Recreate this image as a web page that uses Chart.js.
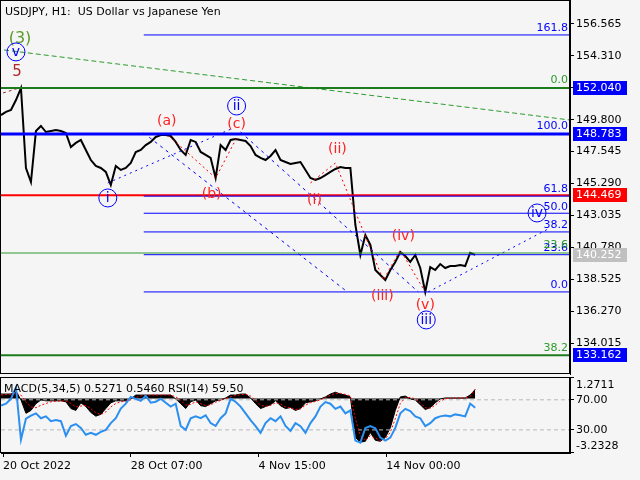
<!DOCTYPE html>
<html>
<head>
<meta charset="utf-8">
<script src="https://cdn.jsdelivr.net/npm/chart.js@4.4.0/dist/chart.umd.min.js"></script>
<style>
  html, body { margin: 0; padding: 0; background: #f5f5f5; overflow: hidden; }
  #wrap { position: relative; width: 640px; height: 480px; overflow: hidden; }
  #mainCanvas { position: absolute; left: 0; top: -8px; }
  #subCanvas { position: absolute; left: 0; top: 369px; }
</style>
</head>
<body>
<div id="wrap">
  <canvas id="mainCanvas" width="640" height="390"></canvas>
  <canvas id="subCanvas" width="640" height="106"></canvas>
</div>
<script>
// USDJPY H1 closes, one value per step
const closes = [
  150.13, 150.35, 150.49, 151.19, 152.04, 146.39, 145.40, 149.00, 149.36, 148.93,
  149.00, 149.07, 149.00, 148.86, 147.87, 148.16, 148.37, 147.66, 146.95, 146.53,
  146.39, 146.11, 145.19, 146.53, 146.25, 146.39, 146.74, 147.52, 147.66, 148.01,
  148.23, 148.58, 148.72, 148.72, 148.65, 148.23, 147.66, 147.31, 148.37, 148.23,
  147.52, 147.31, 147.10, 145.68, 148.01, 147.66, 148.37, 148.44, 148.37, 148.30,
  147.94, 147.31, 147.10, 146.95, 147.24, 147.66, 146.95, 146.81, 146.67, 146.74,
  146.81, 146.25, 145.68, 145.54, 145.68, 145.89, 146.11, 146.32, 146.46, 146.39,
  146.39, 142.36, 140.24, 141.65, 140.95, 139.18, 138.83, 138.47, 139.18, 139.75,
  140.45, 140.17, 139.75, 140.24, 139.32, 137.63, 139.39, 139.18, 139.60, 139.32,
  139.46, 139.46, 139.53, 139.46, 140.40, 140.25
];

const macdHist = [
  0.26, 0.26, 0.26, 0.43, -0.09, -0.88, -0.71, -0.31, -0.09, -0.14,
  -0.14, -0.14, -0.14, -0.20, -0.60, -0.71, -0.26, -0.48, -0.83, -1.05,
  -0.94, -0.60, -0.26, -0.14, -0.14, -0.14, -0.03, 0.20, 0.20, 0.20,
  0.20, 0.20, 0.20, 0.20, 0.20, -0.03, -0.31, -0.60, -0.20, -0.09,
  -0.43, -0.48, -0.31, -0.14, -0.09, 0.03, 0.20, 0.20, 0.26, 0.26,
  0.03, -0.31, -0.60, -0.48, -0.37, -0.14, -0.43, -0.60, -0.54, -0.71,
  -0.60, -0.26, -0.20, -0.14, -0.03, 0.09, 0.26, 0.37, 0.26, 0.20,
  0.09, -2.31, -2.59, -2.54, -2.02, -2.48, -2.54, -2.31, -1.74, -0.71,
  0.09, 0.14, -0.03, -0.09, -0.37, -0.66, -0.54, -0.26, -0.03, 0.03,
  0.03, 0.03, 0.03, 0.03, 0.20, 0.53
];

const macdSignal = [
  0.20, 0.24, 0.25, 0.30, 0.20, -0.20, -0.50, -0.55, -0.40, -0.30,
  -0.20, -0.16, -0.15, -0.15, -0.30, -0.50, -0.45, -0.42, -0.60, -0.85,
  -0.95, -0.80, -0.50, -0.30, -0.20, -0.16, -0.08, 0.05, 0.15, 0.19,
  0.20, 0.20, 0.20, 0.20, 0.20, 0.10, -0.10, -0.40, -0.35, -0.20,
  -0.30, -0.42, -0.38, -0.22, -0.12, -0.02, 0.10, 0.17, 0.22, 0.25,
  0.14, -0.10, -0.40, -0.47, -0.42, -0.25, -0.33, -0.50, -0.55, -0.65,
  -0.62, -0.40, -0.25, -0.18, -0.08, 0.04, 0.18, 0.30, 0.30, 0.24,
  0.15, -1.20, -2.20, -2.50, -2.20, -2.35, -2.50, -2.40, -2.00, -1.20,
  -0.30, 0.05, 0.06, -0.02, -0.25, -0.55, -0.58, -0.40, -0.15, -0.02,
  0.02, 0.03, 0.03, 0.03, 0.12, 0.55
];

const rsiValues = [
  62.3, 64.8, 71.3, 86.8, 17.0, 45.0, 49.0, 52.0, 45.5, 48.0,
  41.6, 43.0, 41.6, 22.3, 35.2, 37.8, 32.6, 23.5, 26.1, 23.5,
  27.4, 30.0, 39.0, 45.5, 58.4, 64.8, 73.9, 71.3, 68.7, 75.2,
  66.1, 67.4, 71.3, 66.1, 61.0, 64.8, 35.2, 30.0, 45.5, 48.0,
  45.5, 49.4, 39.0, 35.2, 45.5, 52.0, 71.3, 67.4, 61.0, 52.0,
  43.0, 35.0, 26.0, 39.0, 45.5, 41.6, 48.0, 35.2, 28.7, 39.0,
  35.0, 26.0, 39.0, 48.0, 61.0, 67.0, 64.8, 58.0, 61.0, 52.0,
  56.0, 15.8, 13.0, 32.6, 35.0, 32.0, 19.7, 15.8, 19.7, 32.6,
  52.0, 58.0, 55.0, 48.0, 45.5, 35.0, 39.0, 45.5, 48.0, 49.0,
  48.0, 50.6, 49.4, 48.0, 65.0, 59.5
];

const xTickPos = [0.4, 26, 51.6, 77.2];
const xTickLabels = ['20 Oct 2022', '28 Oct 07:00', '4 Nov 15:00', '14 Nov 00:00'];
const priceTicks = [134.015, 136.270, 138.525, 140.780, 143.035, 145.290, 147.545, 149.800, 152.055, 154.310, 156.565];
const rsiTicks = [30, 70];
const rsiLevels = [70, 30];

// fibonacci levels
const blueFibLevels = [155.79, 144.40, 143.19, 141.87, 140.26, 137.63];
const blueFibNames = ['161.8', '61.8', '50.0', '38.2', '23.6', '0.0'];
const greenFibLevels = [152.040, 140.38, 133.162];
const greenFibNames = ['0.0', '23.6', '38.2'];
const channelLevel = 148.783;
const redLevel = 144.469;

const boxValues = [152.040, 148.783, 144.469, 140.252, 133.162];
const boxColors = ['#0000ff', '#0000ff', '#ff0000', '#c0c0c0', '#0000ff'];

// wave marks
const waveNames = ['(3)', 'v', '5', '(a)', 'ii', '(c)', 'i', '(b)', '(i)', '(ii)', '(iii)', '(iv)', '(v)', 'iii', 'iv'];
const waveX = [3.8, 3, 3.2, 33.2, 47.2, 47.2, 21.4, 42.2, 62.8, 67.4, 76.4, 80.6, 85, 85.2, 107.4];
const waveY = [155.55, 154.59, 153.17, 149.71, 150.77, 149.50, 144.27, 144.55, 144.13, 147.73, 137.34, 141.58, 136.71, 135.65, 143.21];
const waveKind = ['green', 'circle', 'brown', 'red', 'circle', 'red', 'circle', 'red', 'red', 'red', 'red', 'red', 'red', 'circle', 'circle'];

// trend / wave lines
const greenTrend = [{x: 0.6, y: 154.73}, {x: 114, y: 149.78}];
const brownTrend = [{x: 0.4, y: 151.69}, {x: 3.6, y: 152.04}];
const blueChannelA = [{x: 28.6, y: 148.86}, {x: 69.4, y: 137.63}];
const blueChannelB = [{x: 48, y: 148.93}, {x: 83.6, y: 137.63}];
const blueWaveA = [{x: 21.4, y: 145.33}, {x: 46.6, y: 149.22}];
const blueWaveB = [{x: 85.6, y: 137.63}, {x: 110, y: 142.15}];
const redWaveA = [{x: 33, y: 148.86}, {x: 43, y: 145.68}, {x: 47.2, y: 148.51}];
const redWaveB = [{x: 62, y: 145.33}, {x: 67, y: 146.74}, {x: 76.6, y: 138.47}, {x: 80, y: 140.59}, {x: 85, y: 137.63}];

const X_MAX = 114;
const FIB_START = 28.6;

Chart.defaults.font.family = 'DejaVu Sans';
Chart.defaults.font.size = 11;
Chart.defaults.color = '#000';

function hline(y, x0, color, width, dash) {
  return {
    data: [{x: x0, y: y}, {x: X_MAX, y: y}],
    borderColor: color, borderWidth: width, borderDash: dash || [],
    pointRadius: 0, fill: false, order: 1
  };
}
function seg(pts, color, width, dash) {
  return {
    data: pts, borderColor: color, borderWidth: width, borderDash: dash || [],
    pointRadius: 0, fill: false, order: 1
  };
}

const mainSets = [];
mainSets.push({
  data: closes.map((v, i) => ({x: i, y: v})),
  borderColor: '#000', borderWidth: 2, pointRadius: 0, fill: false, order: 5
});
blueFibLevels.forEach(v => mainSets.push(hline(v, FIB_START, '#0000ff', 1)));
mainSets.push(hline(greenFibLevels[0], 0, '#1c7c1c', 2));
mainSets.push(hline(greenFibLevels[1], 0, '#2c9a2c', 1));
mainSets.push(hline(greenFibLevels[2], 0, '#1c7c1c', 2));
mainSets.push(hline(channelLevel, 0, '#0000ff', 3));
mainSets.push(hline(redLevel, 0, '#ff0000', 2));
mainSets.push(seg(greenTrend, '#2c9a2c', 1, [5, 3]));
mainSets.push(seg(brownTrend, '#a03030', 1, [3, 3]));
mainSets.push(seg(blueChannelA, '#0000ff', 1, [3, 4]));
mainSets.push(seg(blueChannelB, '#0000ff', 1, [3, 4]));
mainSets.push(seg(blueWaveA, '#0000ff', 1, [2, 4]));
mainSets.push(seg(blueWaveB, '#0000ff', 1, [2, 4]));
mainSets.push(seg(redWaveA, '#ff0000', 1, [2, 3]));
mainSets.push(seg(redWaveB, '#ff0000', 1, [2, 3]));

const mainDecor = {
  id: 'mainDecor',
  afterDraw(chart) {
    const {ctx, chartArea: a, scales: {x, y}} = chart;
    ctx.save();
    // frame
    ctx.strokeStyle = '#000';
    ctx.lineWidth = 1;
    ctx.strokeRect(a.left - 0.5, a.top + 0.5, a.right - a.left, a.bottom - a.top - 1);
    // title
    ctx.fillStyle = '#000';
    ctx.font = '11px "DejaVu Sans"';
    ctx.textAlign = 'left';
    ctx.textBaseline = 'middle';
    ctx.fillText('USDJPY, H1:  US Dollar vs Japanese Yen', a.left + 4, a.top + 12);
    // fib names
    ctx.textAlign = 'right';
    ctx.textBaseline = 'bottom';
    ctx.fillStyle = '#0000ff';
    blueFibLevels.forEach((v, i) => ctx.fillText(blueFibNames[i], a.right - 2, y.getPixelForValue(v) - 1));
    ctx.fillText('100.0', a.right - 2, y.getPixelForValue(channelLevel) - 2);
    ctx.fillStyle = '#2c9a2c';
    greenFibLevels.forEach((v, i) => ctx.fillText(greenFibNames[i], a.right - 2, y.getPixelForValue(v) - 2));
    // wave marks
    ctx.textAlign = 'center';
    ctx.textBaseline = 'middle';
    waveNames.forEach((t, i) => {
      const px = x.getPixelForValue(waveX[i]);
      const py = y.getPixelForValue(waveY[i]);
      const k = waveKind[i];
      if (k === 'circle') {
        ctx.strokeStyle = '#0000ff';
        ctx.lineWidth = 1;
        ctx.beginPath();
        ctx.arc(px, py, 9, 0, Math.PI * 2);
        ctx.stroke();
        ctx.fillStyle = '#0000ff';
        ctx.font = '14px "DejaVu Sans"';
      } else if (k === 'green') {
        ctx.fillStyle = '#5a9a2a';
        ctx.font = '16px "DejaVu Sans"';
      } else if (k === 'brown') {
        ctx.fillStyle = '#b02828';
        ctx.font = '15px "DejaVu Sans"';
      } else {
        ctx.fillStyle = '#ff2020';
        ctx.font = '14px "DejaVu Sans"';
      }
      ctx.fillText(t, px, py);
    });
    // price boxes on the axis
    ctx.font = '11px "DejaVu Sans"';
    ctx.textAlign = 'left';
    boxValues.forEach((v, i) => {
      const py = Math.round(y.getPixelForValue(v));
      ctx.fillStyle = boxColors[i];
      ctx.fillRect(a.right + 3, py - 7, 54, 14);
      ctx.fillStyle = '#fff';
      ctx.fillText(v.toFixed(3), a.right + 6, py);
    });
    ctx.restore();
  }
};

new Chart(document.getElementById('mainCanvas').getContext('2d'), {
  type: 'line',
  data: {datasets: mainSets},
  options: {
    responsive: false,
    animation: false,
    layout: {padding: {left: 1, right: 0, top: 0, bottom: 0}},
    plugins: {legend: {display: false}, tooltip: {enabled: false}},
    scales: {
      x: {type: 'linear', min: 0, max: X_MAX, display: false},
      y: {
        position: 'right',
        min: 131.83, max: 158.26,
        afterBuildTicks: s => { s.ticks = priceTicks.map(v => ({value: v})); },
        afterFit: s => { s.width = 70; },
        ticks: {
          padding: 2, color: '#000',
          font: {size: 11, lineHeight: '12px'},
          callback: v => Number(v).toFixed(3)
        },
        grid: {drawOnChartArea: false, tickLength: 4, tickColor: '#000'},
        border: {color: '#000', width: 1}
      }
    }
  },
  plugins: [mainDecor]
});

const subDecor = {
  id: 'subDecor',
  afterDraw(chart) {
    const {ctx, chartArea: a} = chart;
    const m = chart.scales.yMacd;
    ctx.save();
    ctx.strokeStyle = '#000';
    ctx.lineWidth = 1;
    ctx.strokeRect(a.left - 0.5, a.top + 0.5, a.right - a.left, a.bottom - a.top - 1);
    ctx.beginPath();
    ctx.moveTo(a.right, a.top + 0.5); ctx.lineTo(a.right + 4, a.top + 0.5);
    ctx.moveTo(a.right, a.bottom - 0.5); ctx.lineTo(a.right + 4, a.bottom - 0.5);
    ctx.stroke();
    ctx.fillStyle = '#000';
    ctx.font = '11px "DejaVu Sans"';
    ctx.textAlign = 'left';
    ctx.textBaseline = 'middle';
    ctx.fillText('MACD(5,34,5) 0.5271 0.5460 RSI(14) 59.50', a.left + 3, a.top + 12);
    ctx.fillText(m.max.toFixed(4), a.right + 6, a.top + 8);
    ctx.fillText(m.min.toFixed(4), a.right + 6, a.bottom - 7);
    ctx.restore();
  }
};

const subSets = [
  {
    data: rsiValues.map((v, i) => ({x: i, y: v})), yAxisID: 'yRsi',
    borderColor: '#2b8ff0', borderWidth: 2, pointRadius: 0, fill: false, order: 0
  },
  {
    data: macdSignal.map((v, i) => ({x: i, y: v})), yAxisID: 'yMacd',
    borderColor: '#ff0000', borderWidth: 1, borderDash: [2, 2], pointRadius: 0, fill: false, order: 1
  },
  {
    data: macdHist.map((v, i) => ({x: i, y: v})), yAxisID: 'yMacd',
    borderColor: '#000', borderWidth: 1, backgroundColor: '#000', pointRadius: 0, fill: 'origin', order: 3
  }
];
rsiLevels.forEach(v => subSets.push({
  data: [{x: 0, y: v}, {x: X_MAX, y: v}], yAxisID: 'yRsi',
  borderColor: '#b8b8b8', borderWidth: 1, borderDash: [4, 3], pointRadius: 0, fill: false, order: 2
}));

new Chart(document.getElementById('subCanvas').getContext('2d'), {
  type: 'line',
  data: {datasets: subSets},
  options: {
    responsive: false,
    animation: false,
    layout: {padding: {left: 1, right: 0, top: 0, bottom: 0}},
    plugins: {legend: {display: false}, tooltip: {enabled: false}},
    scales: {
      x: {
        type: 'linear', min: 0, max: X_MAX,
        afterBuildTicks: s => { s.ticks = xTickPos.map(v => ({value: v})); },
        ticks: {
          align: 'start', maxRotation: 0, autoSkip: false, padding: 3, color: '#000',
          font: {size: 11, lineHeight: '12px'},
          callback: (v, i) => xTickLabels[i]
        },
        grid: {drawOnChartArea: false, tickLength: 4, tickColor: '#000'},
        border: {color: '#000', width: 1}
      },
      yMacd: {type: 'linear', axis: 'y', display: false, min: -3.2328, max: 1.2711},
      yRsi: {
        type: 'linear', axis: 'y', position: 'right', min: -0.7, max: 100.3,
        afterBuildTicks: s => { s.ticks = rsiTicks.map(v => ({value: v})); },
        afterFit: s => { s.width = 70; },
        ticks: {
          padding: 2, color: '#000',
          font: {size: 11, lineHeight: '12px'},
          callback: v => Number(v).toFixed(2)
        },
        grid: {drawOnChartArea: false, tickLength: 4, tickColor: '#000'},
        border: {color: '#000', width: 1}
      }
    }
  },
  plugins: [subDecor]
});
</script>
</body>
</html>
